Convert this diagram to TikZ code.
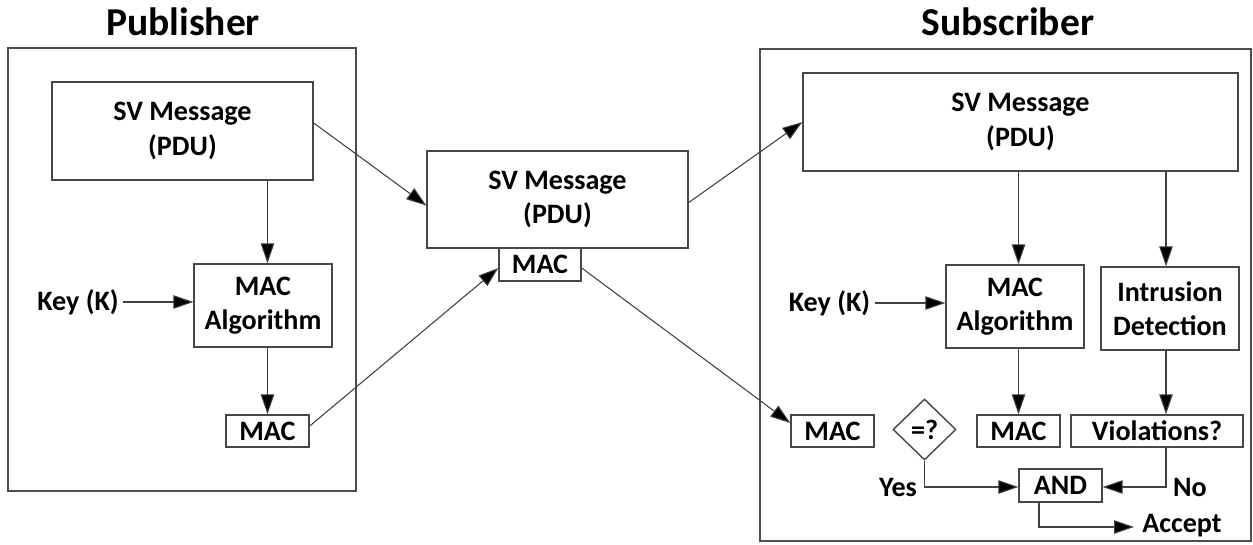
\documentclass[tikz,border=0pt]{standalone}
\usepackage{fontspec}
\setmainfont{Carlito}
\usetikzlibrary{arrows.meta,shapes.geometric,calc}
\begin{document}
\begin{tikzpicture}[x=0.02cm, y=-0.02cm,
    box/.style={draw=black!72, line width=0.8pt, fill=white, align=center, inner sep=0pt,
                font=\bfseries\fontsize{16}{19.5}\selectfont},
    lbl/.style={inner sep=0pt, font=\bfseries\fontsize{16}{19.5}\selectfont},
    title/.style={inner sep=0pt, font=\bfseries\fontsize{22.5}{27}\selectfont},
    frame/.style={draw=black!70, line width=0.9pt, inner sep=0pt},
    arr/.style={draw=black!75, line width=0.6pt, -{Triangle[length=0.4cm, width=0.27cm, fill=black]}}]
      \useasboundingbox (0, 0) rectangle (1253, 544);
      % publisher side
      \node (pubtitle) [title] at (183, 22) {Publisher};
      \node (pubframe) [frame, minimum width=6.96cm, minimum height=8.86cm] at (182, 269.5) {};
      \node (pubsv) [box, minimum width=5.22cm, minimum height=1.96cm] at (182.5, 131) {SV Message\\(PDU)};
      \node (pubalg) [box, minimum width=2.76cm, minimum height=1.66cm] at (263, 305.5) {MAC\\Algorithm};
      \node (pubmac) [box, minimum width=1.66cm, minimum height=0.64cm] at (267.5, 431) {MAC};
      \node (pubkey) [lbl] at (78, 302) {Key (K)};
      % message on the wire
      \node (midsv) [box, minimum width=5.22cm, minimum height=1.94cm] at (557.5, 199.5) {SV Message\\(PDU)};
      \node (midmac) [box, minimum width=1.64cm, minimum height=0.66cm] at (540, 264.5) {MAC};
      % subscriber side
      \node (subtitle) [title] at (1008, 22) {Subscriber};
      \node (subframe) [frame, minimum width=9.82cm, minimum height=9.84cm] at (1005.5, 295) {};
      \node (subsv) [box, minimum width=8.7cm, minimum height=1.96cm] at (1020.5, 122) {SV Message\\(PDU)};
      \node (subalg) [box, minimum width=2.76cm, minimum height=1.66cm] at (1015, 306.5) {MAC\\Algorithm};
      \node (subids) [box, minimum width=2.76cm, minimum height=1.66cm] at (1170, 308.5) {Intrusion\\Detection};
      \node (subkey) [lbl] at (829.5, 303) {Key (K)};
      \node (submacin) [box, minimum width=1.66cm, minimum height=0.64cm] at (832.5, 431) {MAC};
      \node (cmp) [box, diamond, minimum width=1.26cm, minimum height=1.22cm] at (924.5, 429.5) {=?};
      \node (submac) [box, minimum width=1.66cm, minimum height=0.64cm] at (1018.5, 431) {MAC};
      \node (viol) [box, minimum width=3.44cm, minimum height=0.64cm] at (1157, 431) {Violations?};
      \node (andg) [box, minimum width=1.66cm, minimum height=0.66cm] at (1060.5, 485.5) {AND};
      \node (yes) [lbl] at (898, 487) {Yes};
      \node (no) [lbl] at (1190, 487) {No};
      \node (accept) [lbl, anchor=west] at (1134, 526) {\hspace{4.5pt}Accept};
      % connectors
      \draw[arr] (pubmac.north |- pubsv.south) -- (pubmac.north |- pubalg.north);
      \draw[arr] (pubkey.east) ++(4, 0) -- (pubkey -| pubalg.west);
      \draw[arr] (pubmac.north |- pubalg.south) -- (pubmac.north);
      \draw[arr] ([yshift=0.16cm]pubsv.east) -- ([yshift=-0.12cm]midsv.west);
      \draw[arr] ([yshift=0.1cm]pubmac.east) -- ([yshift=-0.07cm]midmac.west);
      \draw[arr] ([yshift=-0.06cm]midsv.east) -- (subsv.west);
      \draw[arr] ([yshift=-0.07cm]midmac.east) -- ([yshift=0.16cm]submacin.west);
      \draw[arr] (submac.north |- subsv.south) -- (submac.north |- subalg.north);
      \draw[arr] ([xshift=-0.08cm]subids.north |- subsv.south) -- ([xshift=-0.08cm]subids.north);
      \draw[arr] (subkey.east) ++(4, 0) -- (subkey -| subalg.west);
      \draw[arr] (submac.north |- subalg.south) -- (submac.north);
      \draw[arr] ([xshift=-0.08cm]subids.south) -- ([xshift=-0.08cm]subids.south |- viol.north);
      \draw[arr] (cmp.south) |- ([yshift=-0.03cm]andg.west);
      \draw[arr] ([xshift=0.18cm]viol.south) |- ([yshift=-0.03cm]andg.east);
      \draw[arr] ([xshift=-0.43cm]andg.south) |- ([yshift=-0.02cm]accept.west);
\end{tikzpicture}
\end{document}
